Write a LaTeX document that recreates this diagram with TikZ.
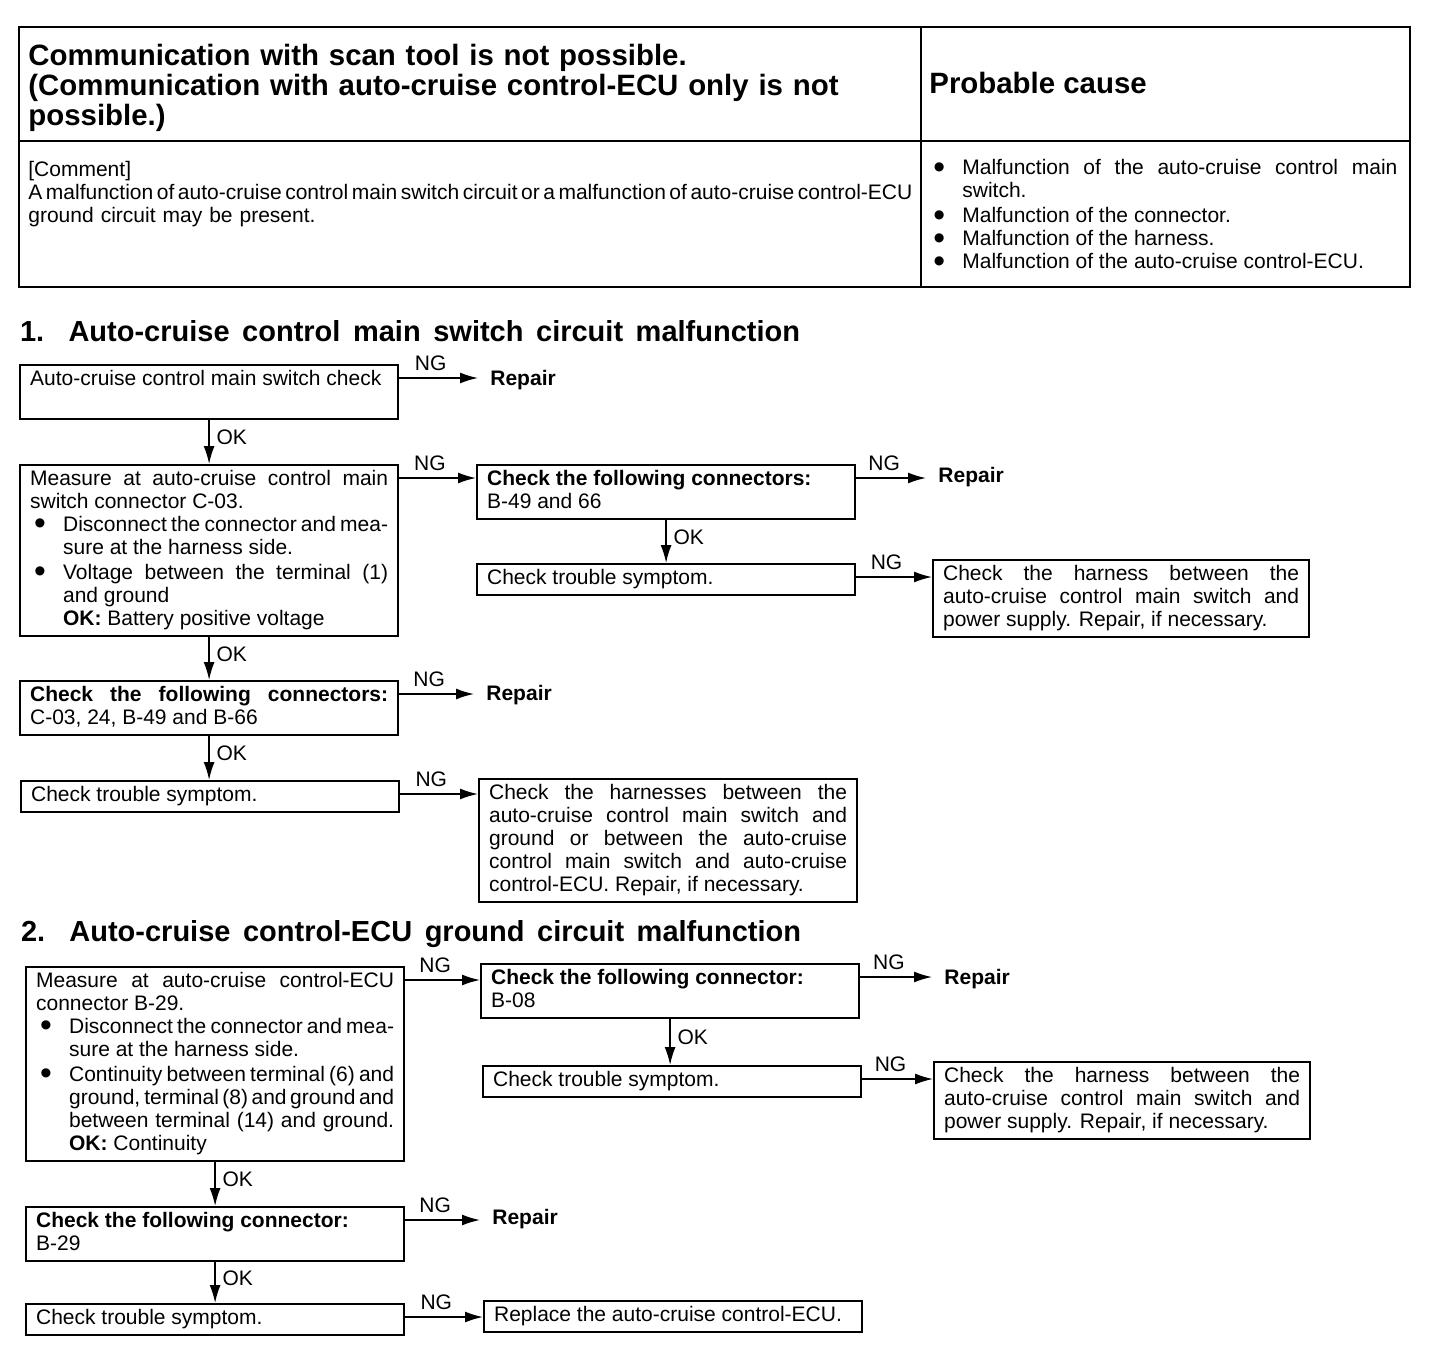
\documentclass[tikz,border=0pt]{standalone}
\usepackage{fontspec}
\setmainfont{Liberation Sans}
\usetikzlibrary{arrows.meta}

\newcommand\boxfont{\fontsize{10.5}{11.5}\selectfont\lineskiplimit=-3pt\spaceskip=0.278em plus 0.3em minus 0.15em\relax}
\newcommand\headfont{\fontsize{14.7}{15}\selectfont\bfseries}
\newcommand\bigdot{\raisebox{-0.18em}{\scalebox{1.6}{\textbullet}}}
% bullet item with hanging text
\newcommand\bitem[1]{\par\noindent\makebox[16.5pt][l]{\hspace{2pt}\bigdot}%
  \parbox[t]{\dimexpr\linewidth-16.5pt\relax}{\strut#1\strut}}

\tikzset{
  stepbox/.style={draw, line width=1.1pt, anchor=north west, inner xsep=5pt, inner ysep=2pt,
    text width=#1, align=justify, font=\boxfont,
    execute at begin node=\strut, execute at end node=\strut},
  stepbox/.default=179pt,
  outcome/.style={anchor=west, inner xsep=6pt, font=\boxfont\bfseries},
  lbl/.style={font=\boxfont},
  flow/.style={-{Latex[length=9pt,width=5.5pt]}, line width=0.8pt},
  title/.style={anchor=west, font=\fontsize{14.5}{15}\selectfont\bfseries},
}

\begin{document}
\begin{tikzpicture}[x=0.5pt, y=-0.5pt]
\useasboundingbox (0,0) rectangle (1456,1356);

% header table
\draw[line width=1.3pt] (19,27) rectangle (1410,287);
\draw[line width=1.1pt] (921,27) -- (921,287) (19,141) -- (1410,141);
\node[anchor=west, text width=442pt, align=left, font=\headfont, inner sep=2pt] (head) at (24,88)
  {Communication with scan tool is not possible.\\(Communication with auto-cruise control-ECU only is not\\possible.)};
\node[anchor=west, font=\headfont, inner sep=2pt] (cause) at (925,83) {Probable cause};
\node[anchor=north west, text width=442pt, align=left, font=\boxfont, inner sep=2pt] (comment) at (24,157)
  {[Comment]\\{\spaceskip=0.17em plus 1em minus 0.17em\makebox[\linewidth][s]{A malfunction of auto-cruise control main switch circuit or a malfunction of auto-cruise control-ECU}}\\ground circuit may be present.};
\node[anchor=north west, text width=234pt, align=justify, font=\boxfont, inner sep=2pt] (causes) at (925,147)
  {\bitem{Malfunction of the auto-cruise control main\linebreak switch.}%
   \bitem{Malfunction of the connector.}%
   \bitem{Malfunction of the harness.}%
   \bitem{Malfunction of the auto-cruise control-ECU.}};

% 1. main switch circuit
\node[title] (t1) at (13,331) {\makebox[390pt][s]{1. Auto-cruise control main switch circuit malfunction}};
\node[stepbox] (A1) at (19,364) {Auto-cruise control main switch check\\\mbox{}};
\node[outcome] (R1) at (478,380) {Repair};
\node[stepbox] (A2) at (19,464) {Measure at auto-cruise control main\linebreak switch connector C-03.
  \bitem{Disconnect the connector and mea-\linebreak sure at the harness side.}%
  \bitem{Voltage between the terminal (1)\linebreak and ground\\\textbf{OK:} Battery positive voltage}};
\node[stepbox] (A3) at (476,464) {\textbf{Check the following connectors:}\\B-49 and 66};
\node[outcome] (R2) at (926,477) {Repair};
\node[stepbox] (A4) at (476,563) {Check trouble symptom.};
\node[stepbox=178pt] (A5) at (932,559) {Check the harness between the\linebreak auto-cruise control main switch and\linebreak power supply. Repair, if necessary.};
\node[stepbox] (A6) at (19,680) {\makebox[\linewidth][s]{\bfseries Check the following connectors:}\\C-03, 24, B-49 and B-66};
\node[outcome] (R3) at (474,695) {Repair};
\node[stepbox] (A7) at (20,780) {Check trouble symptom.};
\node[stepbox] (A8) at (478,778) {Check the harnesses between the\linebreak auto-cruise control main switch and\linebreak ground or between the auto-cruise\linebreak control main switch and auto-cruise\linebreak control-ECU. Repair, if necessary.};

% 2. ECU ground circuit
\node[title] (t2) at (14,934) {\makebox[390pt][s]{2. Auto-cruise control-ECU ground circuit malfunction}};
\node[stepbox] (B1) at (25,966) {Measure at auto-cruise control-ECU\linebreak connector B-29.
  \bitem{Disconnect the connector and mea-\linebreak sure at the harness side.}%
  \bitem{Continuity between terminal (6) and\linebreak ground, terminal (8) and ground and\linebreak between terminal (14) and ground.\linebreak \textbf{OK:} Continuity}};
\node[stepbox] (B2) at (480,963) {\textbf{Check the following connector:}\\B-08};
\node[outcome] (R4) at (932,979) {Repair};
\node[stepbox] (B3) at (482,1065) {Check trouble symptom.};
\node[stepbox=178pt] (B4) at (933,1061) {Check the harness between the\linebreak auto-cruise control main switch and\linebreak power supply. Repair, if necessary.};
\node[stepbox] (B5) at (25,1206) {\textbf{Check the following connector:}\\B-29};
\node[outcome] (R5) at (480,1219) {Repair};
\node[stepbox] (B6) at (25,1303) {Check trouble symptom.};
\node[stepbox] (B7) at (483,1300) {Replace the auto-cruise control-ECU.};

% NG branches to the right, OK branches down
\foreach \src/\dst in {A1/R1, A2/A3, A3/R2, A4/A5, A6/R3, A7/A8, B1/B2, B2/R4, B3/B4, B5/R5, B6/B7}
  \draw[flow] ([yshift=-7pt]\src.north east) coordinate (ng) -- (ng -| \dst.west)
    node[pos=0.4, above, lbl] {NG};
\foreach \src/\dst in {A1/A2, A2/A6, A6/A7, A3/A4, B1/B5, B5/B6, B2/B3}
  \draw[flow] (\src.south) -- (\src.south |- \dst.north)
    node[pos=0.4, right, lbl] {OK};
\end{tikzpicture}
\end{document}
